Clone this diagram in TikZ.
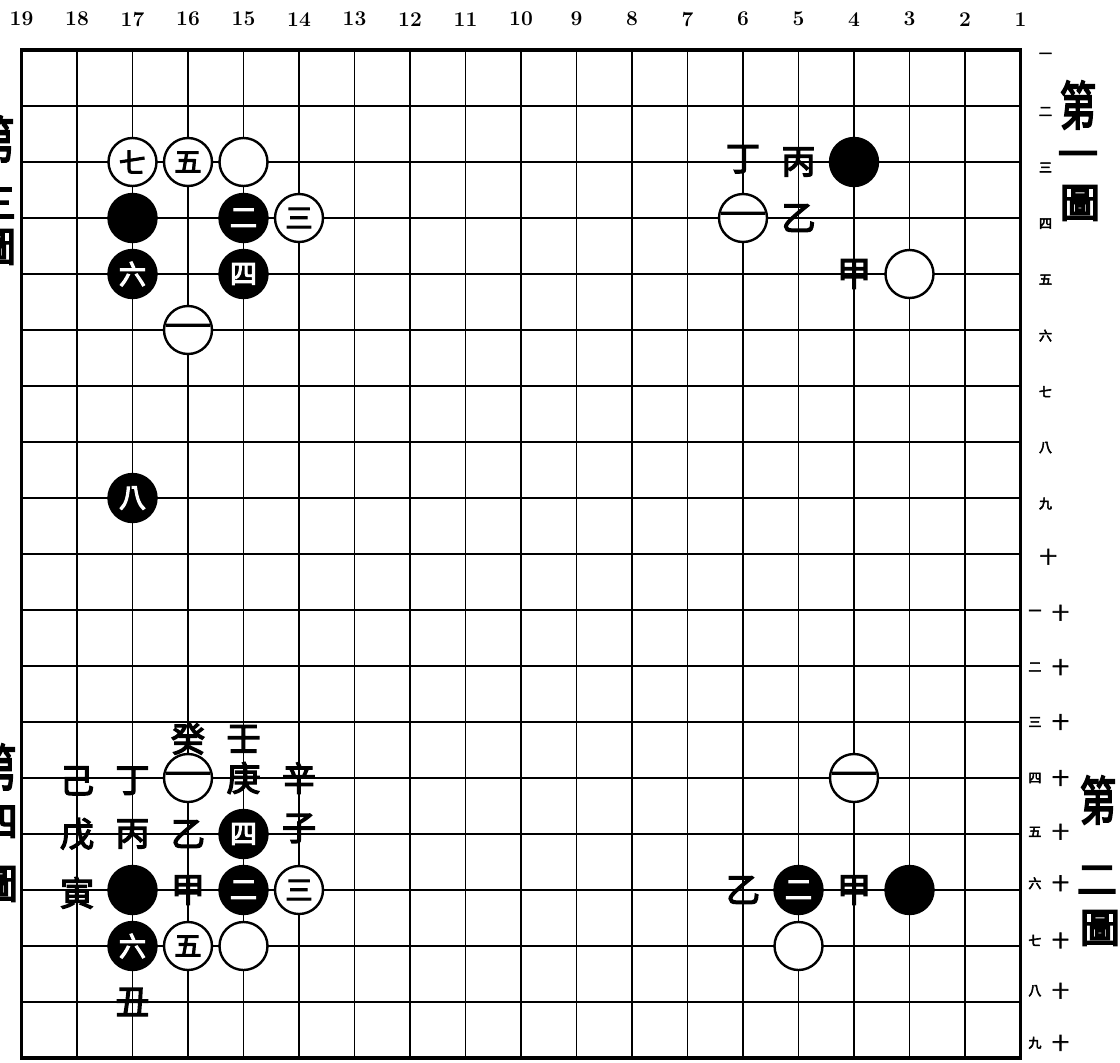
\documentclass[tikz,border=0pt]{standalone}
\usepackage{fontspec}
\newfontfamily\cjk[FakeBold=4]{Noto Sans CJK TC}

\tikzset{
    gridline/.style={line width=1.6pt},
    boardedge/.style={line width=3.6pt},
    wstone/.style={circle, draw, line width=2.4pt, fill=white, text=black, minimum size=48pt, inner sep=0pt, font=\cjk\fontsize{27}{27}\selectfont},
    bstone/.style={wstone, fill=black, text=white},
    letter/.style={inner sep=0pt, font=\cjk\fontsize{34}{34}\selectfont},
    rowlbl/.style={inner sep=0pt, font=\cjk\fontsize{13}{13}\selectfont},
    tenlbl/.style={inner sep=0pt, font=\cjk\fontsize{17}{17}\selectfont},
    collbl/.style={inner sep=0pt, font=\bfseries\fontsize{21}{21}\selectfont},
    titlechar/.style={inner sep=0pt, font=\cjk\fontsize{40}{40}\selectfont}
}

\begin{document}
\begin{tikzpicture}[x=1pt, y=-1pt]
\path[use as bounding box, fill=white] (0,0) rectangle (1120,1063);

\begin{scope}[shift={(1076,-6)}, x=-55.5pt, y=-56pt]
% Board
\foreach \i in {2,...,18} {
    \draw[gridline] (\i,1) -- (\i,19);
    \draw[gridline] (1,\i) -- (19,\i);
}
\draw[boardedge] (1,1) rectangle (19,19);

% Column numbers
\foreach \c in {1,...,19}
    \node[collbl] (col\c) at (\c,0.45) {\c};

% Row numbers
\foreach \r/\n in {1/一,2/二,3/三,4/四,5/五,6/六,7/七,8/八,9/九}
    \node[rowlbl] (row\r) at (0.55,\r+0.1) {\n};
\node[tenlbl] (row10) at (0.5,10.05) {十};
\foreach \r/\n/\dy in {11/一/0.05,12/二/0.02,13/三/0,14/四/0,15/五/-0.04,16/六/-0.12,17/七/-0.1,18/八/-0.2,19/九/-0.27} {
    \node[rowlbl] (row\r) at (0.74,\r+\dy) {\n};
    \node[tenlbl] (ten\r) at (0.28,\r+\dy) {十};
}

% Top right
\node[bstone] (tr-black) at (4,3) {};
\node[wstone] (tr-one) at (6,4) {\scalebox{1.7}[1]{一}};
\node[wstone] (tr-white) at (3,5) {};
\node[letter] (tr-jia) at (4,5) {甲};
\node[letter] (tr-yi) at (5,4) {乙};
\node[letter] (tr-bing) at (5,3) {丙};
\node[letter] (tr-ding) at (6,2.95) {丁};

% Top left
\node[wstone] (tl-seven) at (17,3) {七};
\node[wstone] (tl-five) at (16,3) {五};
\node[wstone] (tl-white) at (15,3) {};
\node[bstone] (tl-black) at (17,4) {};
\node[bstone] (tl-two) at (15,4) {二};
\node[wstone] (tl-three) at (14,4) {三};
\node[bstone] (tl-six) at (17,5) {六};
\node[bstone] (tl-four) at (15,5) {四};
\node[wstone] (tl-one) at (16,6) {\scalebox{1.7}[1]{一}};
\node[bstone] (tl-eight) at (17,9) {八};

% Bottom right
\node[wstone] (br-one) at (4,14) {\scalebox{1.7}[1]{一}};
\node[bstone] (br-two) at (5,16) {二};
\node[bstone] (br-black) at (3,16) {};
\node[wstone] (br-white) at (5,17) {};
\node[letter] (br-jia) at (4,16) {甲};
\node[letter] (br-yi) at (6,16) {乙};

% Bottom left
\node[wstone] (bl-one) at (16,14) {\scalebox{1.7}[1]{一}};
\node[bstone] (bl-four) at (15,15) {四};
\node[bstone] (bl-black) at (17,16) {};
\node[bstone] (bl-two) at (15,16) {二};
\node[wstone] (bl-three) at (14,16) {三};
\node[bstone] (bl-six) at (17,17) {六};
\node[wstone] (bl-five) at (16,17) {五};
\node[wstone] (bl-white) at (15,17) {};
\node[letter] (bl-jia) at (16,16) {甲};
\node[letter] (bl-yi) at (16,15) {乙};
\node[letter] (bl-bing) at (17,15) {丙};
\node[letter] (bl-ding) at (17,14.05) {丁};
\node[letter] (bl-wu) at (18,15) {戊};
\node[letter] (bl-ji) at (18,14.05) {己};
\node[letter] (bl-geng) at (15,14) {庚};
\node[letter] (bl-xin) at (14,14) {辛};
\node[letter] (bl-ren) at (15,13.3) {壬};
\node[letter] (bl-gui) at (16,13.3) {癸};
\node[letter] (bl-zi) at (14,14.9) {子};
\node[letter] (bl-chou) at (17,18) {丑};
\node[letter] (bl-yin) at (18,16.05) {寅};
\end{scope}

% Titles
\node[titlechar] (t1a) at (1078,105) {\scalebox{0.9}[1.3]{第}};
\node[titlechar] (t1b) at (1078,160) {一};
\node[titlechar] (t1c) at (1080,203) {圖};
\node[titlechar] (t2a) at (1098,800) {\scalebox{0.9}[1.3]{第}};
\node[titlechar] (t2b) at (1097,880) {二};
\node[titlechar] (t2c) at (1100,928) {圖};
% cut off at the left edge
\node[titlechar] (t3a) at (-4,140) {\scalebox{0.9}[1.3]{第}};
\node[titlechar] (t3b) at (-4,203) {三};
\node[titlechar] (t3c) at (-4,247) {圖};
\node[titlechar] (t4a) at (-2,768) {\scalebox{0.9}[1.3]{第}};
\node[titlechar] (t4b) at (-2,822) {四};
\node[titlechar] (t4c) at (-2,884) {圖};

\end{tikzpicture}
\end{document}
